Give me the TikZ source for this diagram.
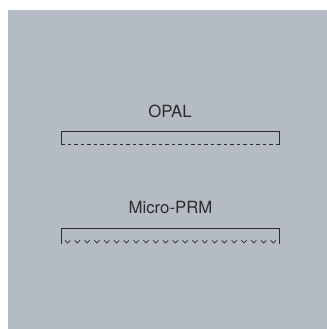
\documentclass[tikz,border=0pt]{standalone}
\usepackage{fontspec}
\setmainfont{TeX Gyre Heros}
\definecolor{panelgray}{HTML}{B5BBC3}
\definecolor{inkgray}{HTML}{2C2C2C}
\begin{document}
\begin{tikzpicture}[x=1bp,y=-1bp,line width=0.9bp]
\tikzset{lbl/.style={anchor=base,inner sep=0pt,text=inkgray,font=\fontsize{16.8bp}{20bp}\selectfont},
  edge/.style={draw=inkgray}}
\def\xl{61}   % left end of brackets
\def\xr{279.5} % right end of brackets
\useasboundingbox (0,0) rectangle (327,329);
\fill[panelgray] (8,10) rectangle (327,329);
% ---- OPAL: bracket with dashed floor ----
\node[lbl] (opal) at (170,117.3) {OPAL};
\draw[edge] (\xl,145) -- (\xl,131) -- (\xr,131) -- (\xr,145);
\draw[edge,dash pattern=on 3.5bp off 3bp] (\xl,144) -- (\xr,144);
% ---- Micro-PRM: bracket with notched floor ----
\node[lbl] (mprm) at (170.5,213) {Micro-PRM};
\draw[edge] (\xl,243.5) -- (\xl,228) -- (\xr,228) -- (\xr,243.5);
\foreach \k in {0,...,21}{
  \draw[edge,line width=0.7bp] ({65+\k*9.8},240.3) -- ({67.6+\k*9.8},243) -- ({70.2+\k*9.8},240.3);}
\end{tikzpicture}
\end{document}
